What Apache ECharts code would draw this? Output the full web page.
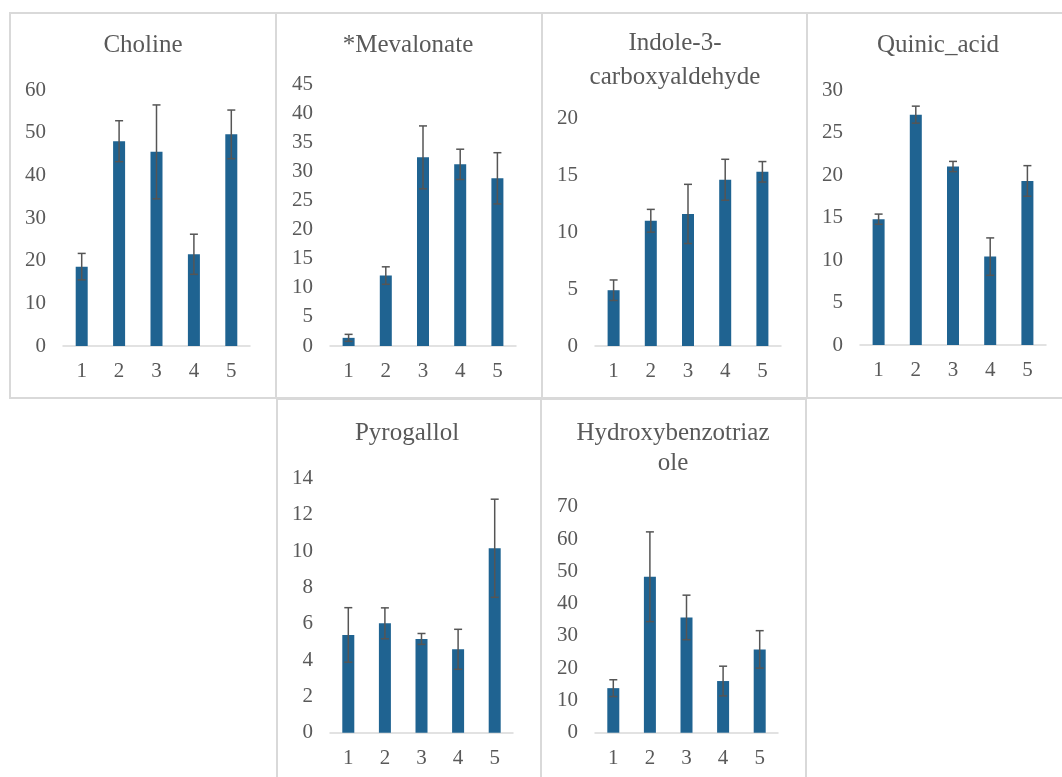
<!DOCTYPE html>
<html>
<head>
<meta charset="utf-8">
<script src="https://cdn.jsdelivr.net/npm/echarts@6/dist/echarts.min.js"></script>
<style>
  html, body { margin: 0; padding: 0; background: #ffffff; }
  #chart { width: 1062px; height: 777px; }
</style>
</head>
<body>
<div id="chart"></div>
<script>
// Group labels on every x axis
const groups = ['1', '2', '3', '4', '5'];

// Means and error half-widths per metabolite
const cholineMean = [18.6, 48.0, 45.5, 21.5, 49.6];
const cholineErr = [3.1, 4.8, 11.0, 4.7, 5.7];

const mevalonateMean = [1.4, 12.1, 32.4, 31.2, 28.8];
const mevalonateErr = [0.6, 1.5, 5.4, 2.6, 4.4];

const indoleMean = [4.9, 11.0, 11.6, 14.6, 15.3];
const indoleErr = [0.9, 1.0, 2.6, 1.8, 0.9];

const quinicMean = [14.8, 27.1, 21.0, 10.4, 19.3];
const quinicErr = [0.6, 1.0, 0.6, 2.2, 1.8];

const pyrogallolMean = [5.38, 6.02, 5.16, 4.59, 10.15];
const pyrogallolErr = [1.5, 0.85, 0.3, 1.1, 2.7];

const hbtMean = [13.8, 48.3, 35.7, 16.0, 25.8];
const hbtErr = [2.6, 13.9, 6.9, 4.6, 5.8];

// Panel titles (multi-line where the name wraps)
const titles = [
  ['Choline'],
  ['*Mevalonate'],
  ['Indole-3-', 'carboxyaldehyde'],
  ['Quinic_acid'],
  ['Pyrogallol'],
  ['Hydroxybenzotriaz', 'ole']
];

// Value-axis ranges and tick steps
const axisMax = [60, 45, 20, 30, 14, 70];
const axisStep = [10, 5, 5, 5, 2, 10];

const means = [cholineMean, mevalonateMean, indoleMean, quinicMean, pyrogallolMean, hbtMean];
const errs = [cholineErr, mevalonateErr, indoleErr, quinicErr, pyrogallolErr, hbtErr];

// Layout: plot areas and panel frames
const grids = [
  { left: 63,  top: 90,    width: 187, height: 256 },
  { left: 330, top: 84,    width: 186, height: 262 },
  { left: 595, top: 118.3, width: 186, height: 227.7 },
  { left: 860, top: 90,    width: 186, height: 255 },
  { left: 330, top: 478.3, width: 183, height: 254.4 },
  { left: 595, top: 506.7, width: 183, height: 226 }
];
const frames = [
  [10, 13, 266, 385], [276, 13, 266, 385], [542, 13, 265, 385], [807, 13, 262, 385],
  [277, 399, 264, 392], [541, 399, 265, 392]
];
const titlePos = [
  [143, 45], [408, 45], [675, 43], [938, 45], [407, 433], [673, 433]
];
const titleLineGap = [0, 0, 34, 0, 0, 30];

const FONT = '"Liberation Serif", "Times New Roman", serif';
const TEXT = '#595959';
const BAR = '#1f6391';
const ERR = '#555555';

const graphic = [];
frames.forEach(f => {
  graphic.push({
    type: 'rect', silent: true, z: -1,
    shape: { x: f[0], y: f[1], width: f[2], height: f[3] },
    style: { fill: 'none', stroke: '#d9d9d9', lineWidth: 2 }
  });
});
titles.forEach((lines, i) => {
  lines.forEach((t, j) => {
    graphic.push({
      type: 'text', silent: true,
      x: titlePos[i][0], y: titlePos[i][1] + j * titleLineGap[i],
      style: {
        text: t, fill: TEXT, font: '25px ' + FONT,
        textAlign: 'center', textVerticalAlign: 'middle'
      }
    });
  });
});

function errorBarItem(params, api) {
  const x = api.value(0), v = api.value(1), e = api.value(2);
  const hi = api.coord([x, v + e]);
  const lo = api.coord([x, v - e]);
  const hw = 4;
  const st = { stroke: ERR, lineWidth: 1.5 };
  return {
    type: 'group',
    children: [
      { type: 'line', shape: { x1: hi[0], y1: hi[1], x2: lo[0], y2: lo[1] }, style: st },
      { type: 'line', shape: { x1: hi[0] - hw, y1: hi[1], x2: hi[0] + hw, y2: hi[1] }, style: st },
      { type: 'line', shape: { x1: lo[0] - hw, y1: lo[1], x2: lo[0] + hw, y2: lo[1] }, style: st }
    ]
  };
}

const xAxis = [], yAxis = [], series = [];
grids.forEach((g, i) => {
  xAxis.push({
    type: 'category', gridIndex: i, data: groups,
    axisTick: { show: false },
    axisLine: { lineStyle: { color: '#d9d9d9', width: 1.5 } },
    axisLabel: { color: TEXT, fontFamily: FONT, fontSize: 21, margin: 15 }
  });
  yAxis.push({
    type: 'value', gridIndex: i, min: 0, max: axisMax[i], interval: axisStep[i],
    axisLine: { show: false }, axisTick: { show: false }, splitLine: { show: false },
    axisLabel: { color: TEXT, fontFamily: FONT, fontSize: 21, margin: 17 }
  });
  series.push({
    type: 'bar', xAxisIndex: i, yAxisIndex: i, data: means[i],
    barWidth: 12, itemStyle: { color: BAR }, silent: true
  });
  series.push({
    type: 'custom', xAxisIndex: i, yAxisIndex: i, z: 5, silent: true,
    renderItem: errorBarItem,
    encode: { x: 0, y: 1 },
    data: means[i].map((m, k) => [k, m, errs[i][k]])
  });
});

const chart = echarts.init(document.getElementById('chart'), null, { renderer: 'canvas' });
chart.setOption({
  backgroundColor: '#ffffff',
  animation: false,
  grid: grids,
  xAxis: xAxis,
  yAxis: yAxis,
  series: series,
  graphic: graphic
});
</script>
</body>
</html>
